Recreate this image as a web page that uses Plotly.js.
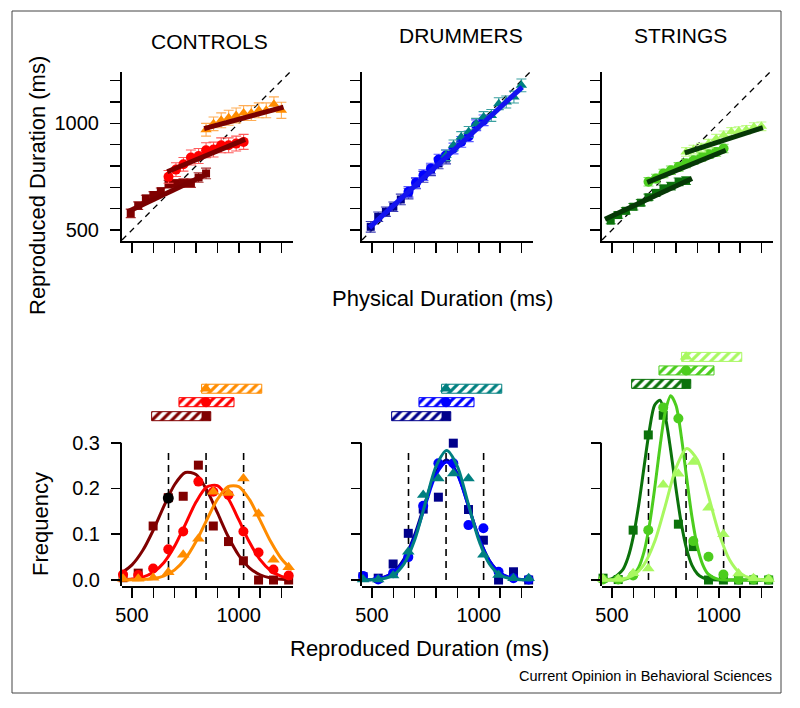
<!DOCTYPE html>
<html><head><meta charset="utf-8">
<script src="https://cdn.plot.ly/plotly-3.0.1.min.js"></script>
<style>html,body{margin:0;padding:0;background:#fff;} #chart{width:800px;height:708px;}</style>
</head><body><div id="chart"></div>
<script>
// ---------- Top row: physical vs reproduced duration ----------
const physShort = [494, 529, 565, 600, 635, 671, 706, 741, 776, 812, 847];
const physMid   = [671, 706, 741, 776, 812, 847, 882, 918, 953, 988, 1023];
const physLong  = [847, 882, 918, 953, 988, 1023, 1059, 1094, 1129, 1165, 1200];

const ctrlShortRep = [578, 614, 648, 664, 682, 715, 718, 720, 720, 746, 765];
const ctrlMidRep   = [749, 783, 808, 840, 847, 874, 877, 897, 897, 905, 913];
const ctrlLongRep  = [970, 998, 1014, 1026, 1037, 1048, 1048, 1061, 1061, 1089, 1061];
const ctrlShortErr = [20, 18, 15, 15, 15, 18, 18, 20, 20, 22, 25];
const ctrlMidErr   = [30, 32, 32, 35, 35, 35, 35, 35, 35, 35, 35];
const ctrlLongErr  = [30, 32, 35, 35, 35, 35, 35, 35, 35, 35, 38];

const drumShortRep = [515, 562, 586, 609, 643, 671, 718, 749, 780, 812, 835];
const drumMidRep   = [679, 721, 757, 788, 830, 850, 882, 913, 939, 991, 1014];
const drumLongRep  = [850, 897, 936, 960, 998, 1030, 1037, 1092, 1100, 1123, 1178];
const drumShortErr = [25, 22, 22, 22, 25, 25, 25, 25, 25, 25, 25];
const drumMidErr   = [25, 25, 25, 25, 25, 25, 25, 25, 25, 25, 25];
const drumLongErr  = [25, 25, 25, 25, 25, 25, 28, 28, 28, 28, 30];

const strShortRep = [544, 570, 590, 609, 628, 653, 674, 695, 706, 726, 731];
const strMidRep   = [726, 741, 765, 780, 796, 812, 827, 843, 855, 866, 882];
const strLongRep  = [866, 877, 886, 905, 928, 944, 960, 964, 970, 983, 986];
const strShortErr = [15, 15, 15, 15, 15, 15, 15, 15, 18, 18, 18];
const strMidErr   = [20, 20, 20, 20, 20, 20, 20, 20, 20, 20, 20];
const strLongErr  = [20, 20, 20, 20, 20, 20, 20, 20, 20, 20, 20];

// linear fit endpoints
const ctrlFitShortX = [480, 857],  ctrlFitShortY = [586, 765];
const ctrlFitMidX   = [665, 1030], ctrlFitMidY   = [773, 925];
const ctrlFitLongX  = [838, 1210], ctrlFitLongY  = [975, 1076];
const drumFitX = [488, 1204], drumFitY = [511, 1170];
const strFitShortX = [467, 875],  strFitShortY = [550, 741];
const strFitMidX   = [665, 1033], strFitMidY   = [723, 874];
const strFitLongX  = [841, 1207], strFitLongY  = [861, 980];
const identity = [453, 1240];

// ---------- Bottom row: frequency distributions ----------
const bins = [458, 529, 599, 670, 740, 811, 881, 952, 1022, 1093, 1163, 1234];
const binsDrum = [458, 529, 599, 670, 740, 811, 881, 952, 1022, 1093, 1163, 1234, 1304];

const ctrlShortFreq = [0.005, 0.015, 0.118, 0.18, 0.183, 0.251, 0.118, 0.084, 0.042, 0, 0, 0];
const ctrlMidFreq   = [0.012, 0.011, 0.025, 0.067, 0.106, 0.215, 0.193, 0.186, 0.106, 0.06, 0.023, 0.01];
const ctrlLongFreq  = [0.003, 0.003, 0.005, 0.017, 0.055, 0.09, 0.193, 0.19, 0.222, 0.145, 0.044, 0.028];
const highlightX = [670], highlightY = [0.179];

const drumShortFreq = [0.007, 0.004, 0.035, 0.102, 0.155, 0.181, 0.299, 0.154, 0.087, 0.0, 0.018, 0.0, null];
const drumMidFreq   = [0.009, 0.001, 0.015, 0.05, 0.162, 0.255, 0.255, 0.12, 0.113, 0.018, 0.004, 0.001, 0.001];
const drumLongFreq  = [0.001, 0.001, 0.01, 0.062, 0.186, 0.222, 0.233, 0.222, 0.055, 0.011, 0.004, 0.004, 0.004];

const strShortFreq = [0.004, 0.001, 0.109, 0.317, 0.36, 0.122, 0.073, 0, 0, 0, 0, 0];
const strMidFreq   = [0.001, 0.001, 0.01, 0.109, 0.377, 0.353, 0.085, 0.051, 0.012, 0.001, 0.001, 0.001];
const strLongFreq  = [0.002, 0.002, 0.015, 0.025, 0.208, 0.232, 0.258, 0.158, 0.1, 0.014, 0.004, 0.002];

// fitted Gaussian curves
const curveX = [450, 500, 550, 600, 650, 700, 750, 800, 850, 900, 950, 1000, 1050, 1100, 1150, 1200, 1250];
const ctrlShortCurve = [0.0148, 0.033, 0.0643, 0.1093, 0.1618, 0.2087, 0.2349, 0.2304, 0.1971, 0.147, 0.0955, 0.0541, 0.0267, 0.0115, 0.0043, 0.0014, 0.0004];
const ctrlMidCurve   = [0.0006, 0.0021, 0.0064, 0.017, 0.0384, 0.0741, 0.1217, 0.1703, 0.2031, 0.2063, 0.1787, 0.1318, 0.0829, 0.0444, 0.0203, 0.0079, 0.0026];
const ctrlLongCurve  = [0.0001, 0.0003, 0.001, 0.0032, 0.0091, 0.0222, 0.0465, 0.084, 0.131, 0.1761, 0.2042, 0.2042, 0.1761, 0.131, 0.084, 0.0465, 0.0222];
const drumShortCurve = [0.0002, 0.0012, 0.005, 0.017, 0.0457, 0.0989, 0.1709, 0.2365, 0.262, 0.2323, 0.1649, 0.0937, 0.0426, 0.0155, 0.0045, 0.0011, 0.0002];
const drumMidCurve   = [0.0002, 0.001, 0.0044, 0.0152, 0.042, 0.093, 0.164, 0.2303, 0.258, 0.2303, 0.164, 0.093, 0.042, 0.0152, 0.0044, 0.001, 0.0002];
const drumLongCurve  = [0.0001, 0.0005, 0.0026, 0.0109, 0.0353, 0.0877, 0.1682, 0.2484, 0.283, 0.2484, 0.1682, 0.0877, 0.0353, 0.0109, 0.0026, 0.0005, 0.0001];
const strCurveX = [450, 500, 550, 575, 600, 625, 650, 675, 700, 725, 750, 775, 800, 825, 850, 875, 900, 925, 950, 1000, 1050, 1100, 1150, 1200, 1250];
const strShortCurve = [0.0003, 0.0031, 0.0222, 0.049, 0.0954, 0.1634, 0.2464, 0.327, 0.3822, 0.393, 0.3558, 0.2835, 0.1989, 0.1229, 0.0668, 0.0319, 0.0134, 0.005, 0.0016, 0.0001, 0, 0, 0, 0, 0];
const strMidCurve   = [0, 0, 0.001, 0.0036, 0.0106, 0.0275, 0.0615, 0.1192, 0.2004, 0.2919, 0.3683, 0.4026, 0.3813, 0.3128, 0.2223, 0.1369, 0.073, 0.0338, 0.0135, 0.0014, 0.0001, 0, 0, 0, 0];
const strLongCurveX = curveX;
const strLongCurve  = [0.0001, 0.0005, 0.0026, 0.0106, 0.0338, 0.084, 0.1625, 0.2448, 0.2873, 0.2626, 0.1869, 0.1036, 0.0447, 0.015, 0.0039, 0.0008, 0.0001];

const refLinesX = [671, 847, 1023];
const refLineTop = 0.285;

// summary bars above each distribution
const barStart = [592, 720, 826];
const barEnd   = [869, 978, 1108];
const barMarkX = [847, 847, 847];
const barLevelsCD = [0.358, 0.3886, 0.418];
const barLevelsS  = [0.4286, 0.458, 0.4876];

const xTicks = [500, 600, 700, 800, 900, 1000, 1100, 1200];
const xTickText = ['500', '', '', '', '', '1000', '', ''];
const yTopTickText = ['500', '', '', '', '', '1000', '', ''];
const yFreqTicks = [0, 0.1, 0.2, 0.3];
const yFreqText = ['0.0', '0.1', '0.2', '0.3'];

// ---------- colours ----------
const C = {
  ctrl: ['#800000', '#ff0000', '#ff8c00'],
  ctrlErr: ['#a83030', '#ff5a5a', '#ffad55'],
  ctrlFit: '#7a0000',
  drum: ['#00008b', '#0000ff', '#008080'],
  drumErr: ['#3c3cb4', '#5a5aff', '#3aa0a0'],
  drumFit: '#1414f0',
  str: ['#0b720b', '#4ccd1e', '#a8f860'],
  strErr: ['#3a963a', '#80e060', '#c4fb90'],
  strFit: '#063806'
};
const SYM = ['square', 'circle', 'triangle-up'];
const TOPSIZE = [8, 10, 10];
const BOTSIZE = [9, 10, 11];

const traces = [];
function ax(n) { return n === 1 ? '' : String(n); }

function topPanel(n, reps, errs, cols, errCols, fitX, fitY, fitCol) {
  const xs = [physShort, physMid, physLong];
  traces.push({type: 'scatter', mode: 'lines', x: identity, y: identity, xaxis: 'x' + ax(n), yaxis: 'y' + ax(n),
    line: {color: '#000', width: 1.3, dash: '6px,5px'}, hoverinfo: 'skip'});
  for (let i = 0; i < 3; i++) {
    traces.push({type: 'scatter', mode: 'markers', x: xs[i], y: reps[i], xaxis: 'x' + ax(n), yaxis: 'y' + ax(n),
      marker: {symbol: SYM[i], size: TOPSIZE[i], color: cols[i]}, cliponaxis: false,
      error_y: {type: 'data', array: errs[i], color: errCols[i], thickness: 1.1, width: 5}});
  }
  for (let i = 0; i < fitX.length; i++) {
    traces.push({type: 'scatter', mode: 'lines', x: fitX[i], y: fitY[i], xaxis: 'x' + ax(n), yaxis: 'y' + ax(n),
      line: {color: fitCol, width: 5}});
  }
}

topPanel(1, [ctrlShortRep, ctrlMidRep, ctrlLongRep], [ctrlShortErr, ctrlMidErr, ctrlLongErr], C.ctrl, C.ctrlErr,
  [ctrlFitShortX, ctrlFitMidX, ctrlFitLongX], [ctrlFitShortY, ctrlFitMidY, ctrlFitLongY], C.ctrlFit);
topPanel(2, [drumShortRep, drumMidRep, drumLongRep], [drumShortErr, drumMidErr, drumLongErr], C.drum, C.drumErr,
  [drumFitX], [drumFitY], C.drumFit);
topPanel(3, [strShortRep, strMidRep, strLongRep], [strShortErr, strMidErr, strLongErr], C.str, C.strErr,
  [strFitShortX, strFitMidX, strFitLongX], [strFitShortY, strFitMidY, strFitLongY], C.strFit);

function botPanel(n, binX, freqs, curvesX, curves, cols, levels) {
  const xa = 'x' + n, ya = 'y' + n;
  refLinesX.forEach(v => {
    traces.push({type: 'scatter', mode: 'lines', x: [v, v], y: [0, refLineTop], xaxis: xa, yaxis: ya,
      line: {color: '#000', width: 1.6, dash: '7px,5px'}});
  });
  for (let i = 0; i < 3; i++) {
    traces.push({type: 'scatter', mode: 'lines', x: curvesX[i], y: curves[i], xaxis: xa, yaxis: ya,
      line: {color: cols[i], width: 3, shape: 'spline', smoothing: 0.8}});
    traces.push({type: 'scatter', mode: 'markers', x: binX, y: freqs[i], xaxis: xa, yaxis: ya, cliponaxis: false,
      marker: {symbol: SYM[i], size: BOTSIZE[i], color: cols[i]}});
  }
  traces.push({type: 'bar', orientation: 'h', y: levels, base: barStart,
    x: barEnd.map((e, k) => e - barStart[k]), width: 0.0197, xaxis: xa, yaxis: ya,
    marker: {color: 'white', line: {color: cols, width: 1},
      pattern: {shape: '/', fgcolor: cols, bgcolor: 'white', size: 7, solidity: 0.45}}});
  for (let i = 0; i < 3; i++) {
    traces.push({type: 'scatter', mode: 'markers', x: [barMarkX[i]], y: [levels[i]], xaxis: xa, yaxis: ya, cliponaxis: false,
      marker: {symbol: SYM[i], size: BOTSIZE[i], color: cols[i]}});
  }
}

botPanel(4, bins, [ctrlShortFreq, ctrlMidFreq, ctrlLongFreq], [curveX, curveX, curveX],
  [ctrlShortCurve, ctrlMidCurve, ctrlLongCurve], C.ctrl, barLevelsCD);
traces.push({type: 'scatter', mode: 'markers', x: highlightX, y: highlightY, xaxis: 'x4', yaxis: 'y4',
  marker: {symbol: 'circle', size: 11, color: '#000'}});
botPanel(5, binsDrum, [drumShortFreq, drumMidFreq, drumLongFreq], [curveX, curveX, curveX],
  [drumShortCurve, drumMidCurve, drumLongCurve], C.drum, barLevelsCD);
botPanel(6, bins, [strShortFreq, strMidFreq, strLongFreq], [strCurveX, strCurveX, strLongCurveX],
  [strShortCurve, strMidCurve, strLongCurve], C.str, barLevelsS);

traces.forEach(t => { t.showlegend = false; t.hoverinfo = 'skip'; });

// ---------- layout ----------
const W = 800, H = 708;
const px = v => v / W, py = v => 1 - v / H;
const FONT = 'Liberation Sans, Arial, Helvetica, sans-serif';
const xDoms = [[122, 292.7], [362, 532.7], [602, 772.7]];
const topRange = [448.4, 1242], xRange = [453.1, 1253], freqRange = [-0.0131, 0.5];

const layout = {
  width: W, height: H, margin: {l: 0, r: 0, t: 0, b: 0, pad: 0},
  paper_bgcolor: '#fff', plot_bgcolor: 'rgba(0,0,0,0)',
  font: {family: FONT, color: '#000'}, showlegend: false, barmode: 'overlay',
  shapes: [], annotations: []
};
function axisBase() {
  return {showgrid: false, zeroline: false, ticks: 'outside', ticklen: 10, tickwidth: 1.6, tickcolor: '#000',
    tickfont: {size: 20, color: '#000', family: FONT}, fixedrange: true};
}
for (let i = 0; i < 3; i++) {
  const nt = i + 1, nb = i + 4;
  const dom = [px(xDoms[i][0]), px(xDoms[i][1])];
  layout['xaxis' + ax(nt)] = Object.assign(axisBase(), {domain: dom, anchor: 'y' + ax(nt), range: xRange,
    showline: true, linecolor: '#000', linewidth: 2, tickvals: xTicks, showticklabels: false});
  layout['yaxis' + ax(nt)] = Object.assign(axisBase(), {domain: [py(241), py(71.7)], anchor: 'x' + ax(nt), range: topRange,
    showline: true, linecolor: '#000', linewidth: 2, tickvals: xTicks, ticktext: yTopTickText,
    showticklabels: i === 0, ticklabelstandoff: 7});
  layout['xaxis' + nb] = Object.assign(axisBase(), {domain: dom, anchor: 'y' + nb, range: xRange,
    showline: true, linecolor: '#000', linewidth: 2, tickvals: xTicks, ticktext: xTickText, showticklabels: true});
  layout['yaxis' + nb] = Object.assign(axisBase(), {domain: [py(586), py(351.2)], anchor: 'x' + nb, range: freqRange,
    showline: false, tickvals: yFreqTicks, ticktext: yFreqText, showticklabels: i === 0, ticklabelstandoff: 7});
  // y axis line of the frequency panels only spans 0 .. 0.3
  layout.shapes.push({type: 'line', xref: 'x' + nb + ' domain', yref: 'y' + nb + ' domain',
    x0: -0.006, x1: -0.006, y0: 0, y1: (0.3 - freqRange[0]) / (freqRange[1] - freqRange[0]),
    line: {color: '#000', width: 2}});
}
// outer frame
layout.shapes.push({type: 'rect', xref: 'paper', yref: 'paper', x0: px(12), x1: px(781), y0: py(693), y1: py(11),
  line: {color: '#444', width: 1}, fillcolor: 'rgba(0,0,0,0)'});

function ann(text, x, y, size, extra) {
  layout.annotations.push(Object.assign({text: text, xref: 'paper', yref: 'paper', x: px(x), y: py(y),
    xanchor: 'center', yanchor: 'middle', showarrow: false, font: {size: size, family: FONT, color: '#000'}}, extra || {}));
}
ann('CONTROLS', 209, 42, 21);
ann('DRUMMERS', 461, 36, 21);
ann('STRINGS', 680, 36, 21);
ann('Reproduced Duration (ms)', 38, 186, 22, {textangle: -90});
ann('Physical Duration (ms)', 442, 298, 22);
ann('Frequency', 40, 524, 22, {textangle: -90});
ann('Reproduced Duration (ms)', 419, 648, 22);
ann('Current Opinion in Behavioral Sciences', 774, 676, 14.5, {xanchor: 'right'});

Plotly.newPlot('chart', traces, layout, {displayModeBar: false, staticPlot: true});
</script>
</body></html>
